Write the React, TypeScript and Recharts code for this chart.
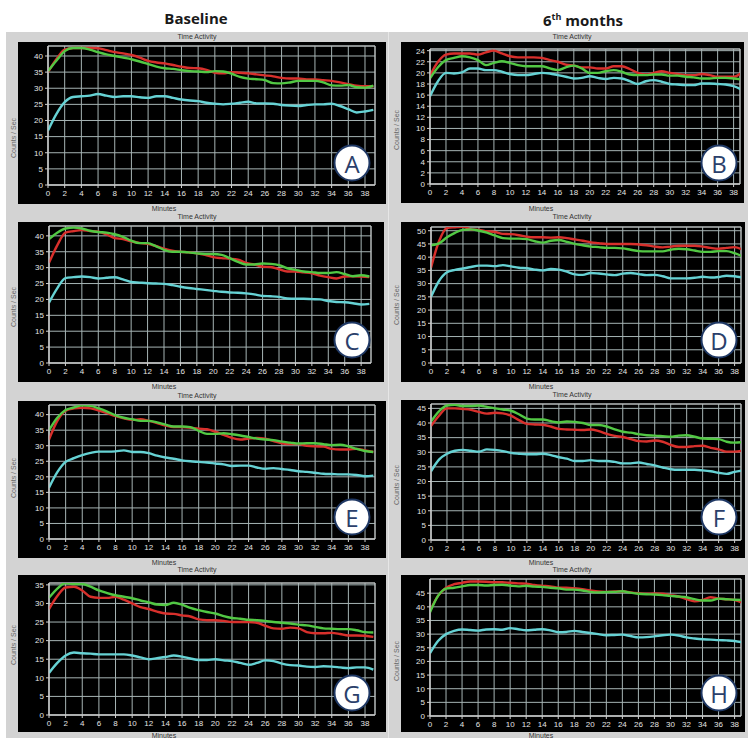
import React from 'react';
import { LineChart, Line, XAxis, YAxis, CartesianGrid, ReferenceArea } from 'recharts';

const minutes = [0,1,2,3,4,5,6,7,8,9,10,11,12,13,14,15,16,17,18,19,20,21,22,23,24,25,26,27,28,29,30,31,32,33,34,35,36,37,38,39];
const xTicks = [0,2,4,6,8,10,12,14,16,18,20,22,24,26,28,30,32,34,36,38];

const ticks40 = [0,5,10,15,20,25,30,35,40];
const ticks24 = [0,2,4,6,8,10,12,14,16,18,20,22,24];
const ticks50 = [0,5,10,15,20,25,30,35,40,45,50];
const ticks45 = [0,5,10,15,20,25,30,35,40,45];
const ticks35 = [0,5,10,15,20,25,30,35];

const aRed = [35,39,42,42.5,42.5,42.5,42.4,41.8,41.2,40.8,40.3,39.5,38.5,38,37.7,37.2,36.7,36.3,36.2,35.7,34.8,34.6,35,34.8,34.6,34.3,34,33.7,33.2,33,33,32.7,32.7,32.5,32.3,31.8,31.3,30.8,30.6,30.6];
const aGreen = [35.3,38.5,41.5,42.5,42.5,42,41.2,40.5,40,39.5,39,38.3,37.5,36.7,36.2,36,35.6,35.3,35.2,35,35.3,35.2,34.5,33.5,33,32.8,32.5,31.6,31.5,31.8,32.3,32.3,32.3,31.8,30.9,30.8,31,30.3,30.2,30.8];
const aCyan = [16.9,22,25.7,27.3,27.5,27.7,28.2,27.7,27.3,27.5,27.5,27.2,27,27.5,27.5,27,26.5,26.2,26,25.5,25.2,25,25.2,25.5,25.8,25.3,25.3,25.2,24.8,24.6,24.5,24.8,25,25,25.2,24.5,23.5,22.5,22.8,23.3];

const bRed = [19.5,22,23.3,23.5,23.5,23.5,23.3,23.7,24,23.5,23,22.8,22.8,22.8,22.7,22.3,22,21.5,21.3,21,21,20.8,20.8,21.2,21.2,20.7,20,19.7,20,20.3,20,19.8,19.6,19.6,19.8,19.6,19.3,19.3,19.3,20];
const bGreen = [19,21,22.3,22.7,23,22.8,22.3,21.4,21.8,22.1,21.8,21.4,21.2,21.2,21.2,20.8,20.5,21,21.3,20.8,20,20,20.3,20.5,20.2,19.7,19.6,19.6,19.7,19.7,19.5,19.5,19.3,19.2,19,19,19.1,19.1,19,18.8];
const bCyan = [15.8,18.5,20,19.9,20.1,20.8,20.8,20.5,20.5,20.2,19.8,19.6,19.6,19.8,20,19.9,19.6,19.3,19,19.1,19.4,19.1,18.9,19.1,19,18.5,18,18.5,18.7,18.4,18,17.9,17.8,17.8,18.1,18.1,18,17.9,17.6,17];

const cRed = [31.5,37,41,41.5,41.8,41.5,41.3,40.5,39.3,39,38.3,37.8,37.5,36.8,36,35.3,35,34.8,34.5,34,33.3,33,32.8,32.5,31.5,31,30.3,30.2,29.5,28.8,28.8,28.5,28.2,27.5,27,26.6,27.2,27.3,27.2,27];
const cGreen = [39,41,42.3,42.6,42.3,41.6,41.2,41,40.5,39.7,38.5,37.7,37.7,36.8,35.6,35,35,34.8,34.5,34.3,34.3,34,33,31.8,31,31,31.3,31.2,30.8,29.8,29.3,28.8,28.6,28.3,28.3,28.6,28,27.3,27.6,27.2];
const cCyan = [19,23.5,26.7,27,27.2,27,26.6,26.8,27,26.3,25.5,25.3,25.1,25,24.9,24.5,24,23.6,23.3,23,22.7,22.4,22.2,22.1,21.9,21.6,21.1,21,20.8,20.3,20.2,20.2,20.1,20,19.5,19.2,19.1,18.8,18.4,18.6];

const dRed = [36,46,51,51.3,51.5,50.5,50.3,49.8,49.5,48.8,48.7,48.3,47.7,47.5,47.5,47.4,47.5,47.2,46.7,46.2,45.6,45.3,45,45,45,45,44.8,44.5,44,43.7,44,44.3,44.3,44.3,44,43.5,43.2,43.5,43.8,42.8];
const dGreen = [44.5,45.2,47.5,49.2,50.3,50.5,50,49.3,48.2,47.2,47,47,46.8,46,45.5,46.2,46.5,45.8,45,44.5,44,43.8,43.5,43.5,43.3,42.8,42.3,42.2,42.2,42.2,42.8,43.2,43,42.5,42,42,42.3,42.3,41.5,40.3];
const dCyan = [25,31,34.3,35.2,35.7,36.3,36.8,36.8,36.6,37,36.5,36,35.8,35.3,35,35.5,35.3,34.5,33.5,33.3,34,33.8,33.5,33.2,33.8,34,33.6,33.2,33.3,32.8,32,32,32,32.2,32.6,32.3,32.5,33,32.8,32.3];

const eRed = [32,38,41.3,42,42.2,42,41.3,40.5,39.5,38.8,38.3,38.5,38,37.3,36.5,36,36,35.8,35.5,35.3,34.5,33.5,32.5,32,32.3,32.5,32.3,31.5,30.8,30.5,30.5,30,29.8,29.7,29,28.8,28.8,29,28.5,28];
const eGreen = [35,39,41.5,42.3,43,42.8,42,41,39.8,39,38.5,38,38,37.5,36.8,36.2,36.2,36,34.8,33.8,33.8,34,33.7,33.3,32.8,32.3,32,31.8,31.3,31,30.7,30.8,30.8,30.5,30.2,30.3,29.8,29,28.3,28];
const eCyan = [16.5,21.5,24.8,26,27,27.7,28.1,28.1,28.2,28.5,28,28,27.6,26.8,26.2,25.8,25.3,25,24.8,24.6,24.3,24,23.5,23.6,23.6,23,22.6,22.8,22.5,22.2,21.8,21.6,21.3,21,20.9,20.8,20.8,20.6,20.2,20.4];

const fRed = [39,42.5,45,45,44.8,44.5,43.8,43.2,43.5,43.3,42.5,41,39.7,39.5,39.4,38.8,38,37.8,37.7,37.6,37.8,37.2,36.3,35.6,35.2,34.5,33.8,33.7,34,33.6,32.5,31.8,31.8,32.1,32.2,31.5,31,30.2,30.2,30.5];
const fGreen = [40.5,44,46,46.2,45.8,45.8,46,45.5,45,44.6,44.2,43,41.5,41.2,41.2,40.6,40.2,40.5,40.4,40,39.3,39.3,38.8,37.8,37,36.7,36.2,35.8,35.7,35.5,35.3,35.7,35.8,35.3,34.7,34.6,34.5,33.6,33.3,33.5];
const fCyan = [23.5,27.5,29.5,30.5,30.8,30.5,30.2,31,30.8,30.4,29.8,29.5,29.3,29.3,29.5,29,28.3,27.8,27,27,27.3,27,27,26.7,26.2,26.2,26.5,26,25.5,24.8,24.2,24,24,24,23.8,23.5,23,22.6,23.3,23.8];

const gRed = [28.5,32,34.3,34.5,33.5,31.8,31.5,31.5,31.8,31,30,29,28.5,27.8,27.3,27.2,26.8,26.5,25.7,25.5,25.5,25.3,25,25,25,24.8,24,23.3,23.2,23.5,23.3,22.3,22,22,22.1,21.8,21.4,21.4,21.3,21];
const gGreen = [31.5,34,35.5,35.2,35.2,34.5,33.5,32.8,32.2,31.8,31.4,30.8,30.3,29.7,29.6,30.2,29.7,28.8,28.2,27.7,27.3,26.6,26.1,25.9,25.6,25.5,25.3,25,24.8,24.6,24.3,24.1,23.7,23.3,23.2,23.1,23.1,22.8,22.3,22.2];
const gCyan = [11.3,14,16,16.8,16.6,16.5,16.3,16.3,16.3,16.3,16,15.5,15,15.3,15.6,16,15.7,15.2,14.8,14.8,15,14.7,14.5,14,13.5,14,14.7,14.5,13.8,13.4,13.3,13,12.9,13.1,13,12.8,12.6,12.8,12.8,12.2];

const hRed = [38.5,44,47,48.3,48.8,49.3,49.3,49.2,49,49,48.8,48.6,48.5,48,47.7,47.5,47,47,46.8,46.5,46,45.6,45.5,45.6,45.7,45.3,45,44.8,44.9,44.8,44.3,43.8,42.8,42,42.5,43.5,43,42.8,42.5,41.5];
const hGreen = [38,44,46.7,47,47.5,48,48,47.8,48,48.1,47.8,47.5,47.7,47.4,47.3,47,46.8,46.3,46.3,46,45.5,45.3,45.4,45.5,45.7,45.2,44.8,44.6,44.5,44.3,44,43.8,43.5,42.8,42.3,42.3,43,42.8,42.6,42.5];
const hCyan = [23,27.5,30,31.2,31.7,31.5,31.3,31.7,31.8,31.6,32.2,31.8,31.4,31.6,31.8,31.4,30.7,30.8,31.2,30.8,30.4,30,29.6,29.7,29.8,29.3,28.8,28.9,29.2,29.6,29.8,29.5,28.8,28.4,28.1,28,27.8,27.7,27.5,27];

const letters = ['A','B','C','D','E','F','G','H'];

function rows(red: number[], green: number[], cyan: number[]) {
  return minutes.map((m, i) => ({ m, red: red[i], green: green[i], cyan: cyan[i] }));
}

type Cfg = {
  letter: string; data: any[]; yTicks: number[]; yMax: number; xMax: number;
  x: number; y: number; w: number; h: number; t: number; b: number; l: number; r: number;
  cx: number; cy: number; labelY: number; countsX: number; countsY: number; titleX: number; minX: number; minY: number;
};

const LEFT = { xMax: 39.2, titleX: 197, minX: 164, cx: 352, countsX: 13 };
const RIGHT = { xMax: 38.8, titleX: 572, minX: 541, cx: 719, countsX: 396 };

const charts: Cfg[] = [
  { ...LEFT, letter: letters[0], data: rows(aRed, aGreen, aCyan), yTicks: ticks40, yMax: 43.1, x: 18, y: 42, w: 368, h: 162, t: 4, b: 19, l: 30, r: 11, cy: 163, labelY: 39, countsY: 138, minY: 211 },
  { ...RIGHT, letter: letters[1], data: rows(bRed, bGreen, bCyan), yTicks: ticks24, yMax: 24.3, x: 401, y: 42, w: 343, h: 161, t: 7, b: 19, l: 29, r: 4, cy: 163, labelY: 39, countsY: 130, minY: 211 },
  { ...LEFT, letter: letters[2], data: rows(cRed, cGreen, cCyan), yTicks: ticks40, yMax: 43.1, x: 18, y: 222, w: 366, h: 160, t: 4, b: 19, l: 31, r: 13, cy: 340, labelY: 219, countsY: 307, minY: 389 },
  { ...RIGHT, letter: letters[3], data: rows(dRed, dGreen, dCyan), yTicks: ticks50, yMax: 51.4, x: 401, y: 222, w: 344, h: 160, t: 5, b: 19, l: 30, r: 4, cy: 340, labelY: 219, countsY: 305, minY: 389 },
  { ...LEFT, letter: letters[4], data: rows(eRed, eGreen, eCyan), yTicks: ticks40, yMax: 43.1, x: 18, y: 401, w: 368, h: 157, t: 4, b: 19, l: 31, r: 11, cy: 517, labelY: 398, countsY: 478, minY: 565 },
  { ...RIGHT, letter: letters[5], data: rows(fRed, fGreen, fCyan), yTicks: ticks45, yMax: 46.5, x: 401, y: 400, w: 344, h: 158, t: 4, b: 18, l: 30, r: 4, cy: 517, labelY: 397, countsY: 485, minY: 565 },
  { ...LEFT, letter: letters[6], data: rows(gRed, gGreen, gCyan), yTicks: ticks35, yMax: 35.5, x: 18, y: 575, w: 368, h: 157, t: 8, b: 17, l: 31, r: 11, cy: 693, labelY: 572, countsY: 645, minY: 737.5 },
  { ...RIGHT, letter: letters[7], data: rows(hRed, hGreen, hCyan), yTicks: ticks45, yMax: 50.2, x: 401, y: 575, w: 344, h: 157, t: 4, b: 16, l: 29, r: 4, cy: 693, labelY: 572, countsY: 661, minY: 737.5 },
];

const tickStyle = { fill: '#e4e4e4', fontSize: 8, fontFamily: 'Liberation Sans, Arial, sans-serif' };

function Panel({ c }: { c: Cfg }) {
  return (
    <div style={{ position: 'absolute', left: c.x, top: c.y, width: c.w, height: c.h, background: '#000' }}>
      <LineChart width={c.w} height={c.h} data={c.data} margin={{ top: c.t, right: c.r, bottom: 0, left: 0 }}>
        <CartesianGrid stroke="#a6b4b4" strokeWidth={1} />
        <XAxis dataKey="m" type="number" domain={[0, c.xMax]} ticks={xTicks} interval={0} allowDataOverflow
          height={c.b} tick={tickStyle} tickSize={3} tickLine={{ stroke: '#d0d0d0' }} axisLine={{ stroke: '#d0d0d0' }} />
        <YAxis type="number" domain={[0, c.yMax]} ticks={c.yTicks} interval={0} allowDataOverflow
          width={c.l} tick={tickStyle} tickSize={3} tickLine={{ stroke: '#d0d0d0' }} axisLine={{ stroke: '#d0d0d0' }} />
        <ReferenceArea x1={0} x2={c.xMax} y1={0} y2={c.yMax} fill="none" fillOpacity={0} stroke="#c0c0c0" strokeWidth={1} ifOverflow="visible" />
        <Line type="monotone" dataKey="cyan" stroke="#66d2d4" strokeWidth={2.4} dot={false} isAnimationActive={false} />
        <Line type="monotone" dataKey="red" stroke="#d8302c" strokeWidth={2.4} dot={false} isAnimationActive={false} />
        <Line type="monotone" dataKey="green" stroke="#52c844" strokeWidth={2.4} dot={false} isAnimationActive={false} />
      </LineChart>
    </div>
  );
}

export default function App() {
  const small = { fontFamily: 'Liberation Sans, Arial, sans-serif', fontSize: 7 };
  return (
    <div style={{ position: 'absolute', left: 0, top: 0, width: 748, height: 738, background: '#fff', overflow: 'hidden' }}>
      <div style={{ position: 'absolute', left: 6, top: 32, width: 742, height: 706, background: '#d3d3d3' }} />
      <div style={{ position: 'absolute', left: 388, top: 32, width: 1, height: 706, background: '#e6e6e6' }} />
      {charts.map((c) => <Panel key={c.letter} c={c} />)}
      <svg width={748} height={738} style={{ position: 'absolute', left: 0, top: 0, pointerEvents: 'none' }}>
        <text x={196} y={23.5} textAnchor="middle" fontFamily="Open Sans, sans-serif" fontWeight={700} fontSize={15} fill="#1a1a1a">Baseline</text>
        <text x={583} y={26} textAnchor="middle" fontFamily="Open Sans, sans-serif" fontWeight={700} fontSize={15} fill="#1a1a1a">
          6<tspan fontSize={9} dy={-6}>th</tspan><tspan dy={6}> months</tspan>
        </text>
        {charts.map((c) => (
          <g key={'t' + c.letter}>
            <text x={c.titleX} y={c.labelY} textAnchor="middle" {...small} fill="#333">Time Activity</text>
            <text x={c.minX} y={c.minY} textAnchor="middle" {...small} fill="#333">Minutes</text>
            <text x={c.countsX} y={c.countsY} textAnchor="middle" dominantBaseline="central" {...small} fill="#666"
              transform={`rotate(-90 ${c.countsX} ${c.countsY})`}>Counts / Sec</text>
            <circle cx={c.cx} cy={c.cy} r={17.5} fill="#fff" stroke="#1f3864" strokeWidth={2} />
            <text x={c.cx} y={c.cy} textAnchor="middle" dominantBaseline="central" fontFamily="Open Sans, sans-serif" fontSize={24} fill="#2b3f6b">{c.letter}</text>
          </g>
        ))}
      </svg>
    </div>
  );
}
